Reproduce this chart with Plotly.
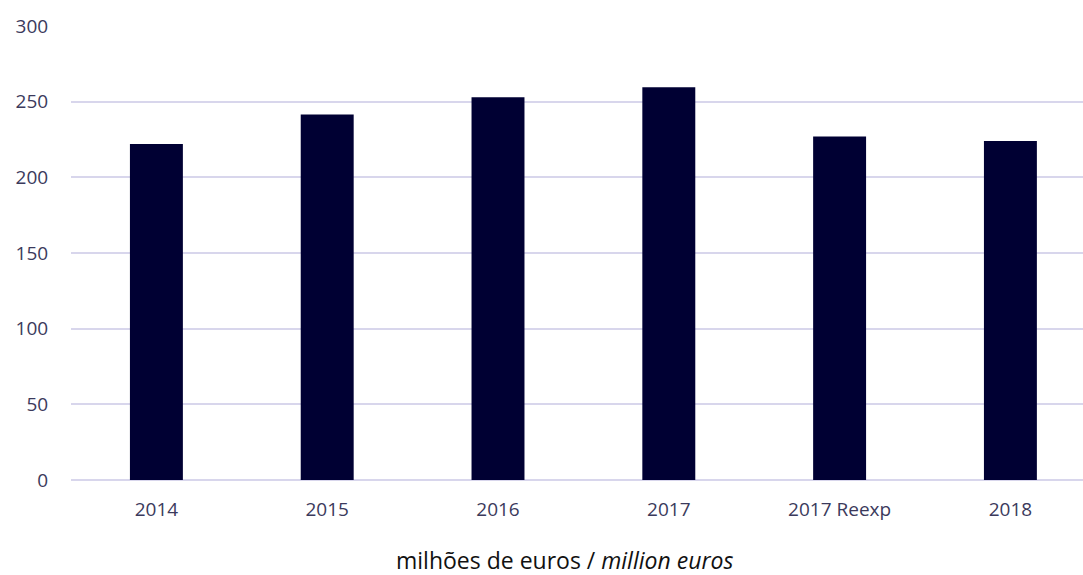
import plotly.graph_objects as go

categories = ["2014", "2015", "2016", "2017", "2017 Reexp", "2018"]
values = [222, 241.5, 253, 259.5, 227, 224]
y_ticks = [0, 50, 100, 150, 200, 250, 300]

BAR = "#000033"
GRID = "#d8d6ec"
TICK = "#3b3a5c"
FONT = "Open Sans, sans-serif"

fig = go.Figure(go.Bar(x=categories, y=values, marker=dict(color=BAR, line=dict(width=0)), width=0.31))

fig.update_layout(
    width=1083, height=575,
    margin=dict(l=71, r=0, t=26, b=95),
    plot_bgcolor="white", paper_bgcolor="white",
    showlegend=False,
    font=dict(family=FONT, color=TICK, size=19),
    bargap=0.69,
)
fig.update_xaxes(
    type="category", range=[-0.5, 5.425],
    showgrid=False, zeroline=False, showline=False,
    ticks="outside", ticklen=12, tickcolor="rgba(0,0,0,0)",
    tickfont=dict(size=19, color=TICK, family=FONT),
)
fig.update_yaxes(
    range=[0, 300], tickvals=y_ticks,
    showgrid=True, gridcolor=GRID, gridwidth=1.5,
    zeroline=True, zerolinecolor=GRID, zerolinewidth=1.5,
    showline=False,
    ticks="outside", ticklen=18, tickcolor="rgba(0,0,0,0)",
    tickfont=dict(size=19, color=TICK, family=FONT),
)
fig.add_annotation(
    text="milhões de euros / <i>million euros</i>",
    xref="paper", yref="paper", x=(564 - 71) / 1012, y=-80 / 454,
    xanchor="center", yanchor="middle", showarrow=False,
    font=dict(size=23, color="#111111", family=FONT),
)
fig.write_html("out.html")
